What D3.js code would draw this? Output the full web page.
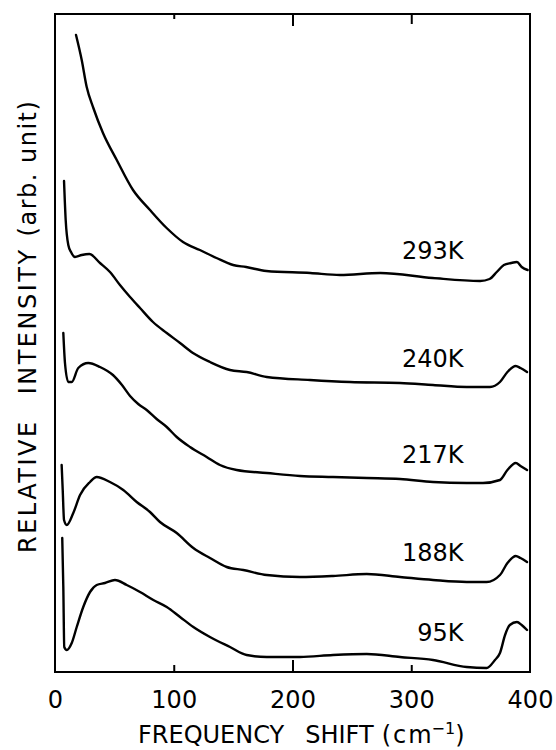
<!DOCTYPE html>
<html><head><meta charset="utf-8">
<script src="https://cdn.jsdelivr.net/npm/d3@7"></script>
<style>
html,body{margin:0;padding:0;background:#fff;}
svg{display:block;}
text{font-family:"DejaVu Sans",sans-serif;fill:#000;}
</style></head>
<body>
<script>
// ---- data (intensity in arbitrary units, offset curves) ----
const xTicks = [0, 100, 200, 300, 400];
const seriesNames = ["293K", "240K", "217K", "188K", "95K"];

const freq293 = [17.7,22.5,26.7,32.3,40.4,52,65.7,80,94,107.8,122,136,150,161,178,215,240,274,318,358,366,372,378,384,389,393,398];
const int293  = [637,612,585,564,539,512,482,462,444,430,422,414,407,405,401,399,397,399,394,391,393,400,407,409,410,405,402];

const freq240 = [7.6,9.0,11.2,13.5,16.8,22.5,28.9,37.9,46.3,54.7,63.2,71.6,82.5,94.1,105.3,116.2,130.5,147.4,161.4,178.3,214.7,248.4,290.5,318.3,346.7,366.3,374.7,381,388,392,397.5];
const int240  = [491,452,427,420,415,417,418,409,400,387,375,364,350,339,329,319,310,302,300,295,292,290,289,287,285,285,290,300,306,304,300];

const freq217 = [7.0,8.4,11.2,14.1,19.6,28.0,37.9,48.8,56.4,63.2,70.1,77.2,85.6,94.1,102.5,113.7,127.7,138.9,153,178.3,206.3,234.1,262.5,290.5,318.3,346.7,360.4,374.7,381,388,392,397.5];
const int217  = [339,309,290,290,304,309,305,297,287,276,268,262,253,245,235,225,215,207,202,199,196,195,194,193,190,189,189,192,202,209,206,202];

const freq188 = [5.6,6.5,7.6,9.9,15.4,21.1,29.5,35.1,46.3,57.5,68.8,80,88.4,102.5,116.5,130.5,144.6,158.6,178.3,206.3,234.1,262.5,290.5,318.3,346.7,363.5,374.7,381,388,392,397.5];
const int188  = [207,182,152,147,159,177,190,195,190,182,170,160,150,139,124,114,105,102,97,95,96,98,95,92,90,90,97,109,116,114,110];

const freq95 = [6.1,7.0,7.8,9.9,14.1,18.3,23.8,29.5,35.1,42.1,50.5,60.4,71.6,82.8,94.1,105.3,116.5,130.5,147.4,161.4,178.3,206.3,234.1,262.5,290.5,318.3,346.7,363.5,370.5,374.7,379,383,389,393,397.5];
const int95  = [134,85,25,22,29,45,65,80,87,89,92,87,80,72,65,55,45,35,25,17,15,15,17,18,15,12,5,4,12,19,37,47,50,47,42];

const freqs = [freq293, freq240, freq217, freq188, freq95];
const ints  = [int293, int240, int217, int188, int95];

// ---- layout ----
const W = 556, H = 750;
const L = 55, R = 530, T = 14, B = 672;

const svg = d3.select("body").append("svg").attr("width", W).attr("height", H);

const x = d3.scaleLinear().domain([0, 400]).range([L, R]);
const y = d3.scaleLinear().domain([0, B - T]).range([B, T]);

// frame
svg.append("rect").attr("x", L).attr("y", T).attr("width", R - L).attr("height", B - T)
  .attr("fill", "none").attr("stroke", "#000").attr("stroke-width", 2);

// tick lengths (inward)
const bottomLen = {100: 7, 200: 12, 300: 7};
const topLen = {100: 5, 200: 12, 300: 10};

const gB = svg.append("g").attr("transform", `translate(0,${B})`)
  .call(d3.axisBottom(x).tickValues(xTicks).tickFormat(d3.format("d")).tickSize(0).tickPadding(19));
gB.select(".domain").remove();
gB.selectAll(".tick text").attr("font-size", 24).attr("font-family", "DejaVu Sans").attr("fill", "#000");
gB.selectAll(".tick").append("line")
  .attr("y1", 0).attr("y2", d => -(bottomLen[d] || 0))
  .attr("stroke", "#000").attr("stroke-width", 2);

const gT = svg.append("g").attr("transform", `translate(0,${T})`)
  .call(d3.axisTop(x).tickValues(xTicks.filter(d => d > 0 && d < 400)).tickFormat("").tickSize(0));
gT.select(".domain").remove();
gT.selectAll(".tick").append("line")
  .attr("y1", 0).attr("y2", d => (topLen[d] || 0))
  .attr("stroke", "#000").attr("stroke-width", 2);

// curves
const line = d3.line().x(d => x(d[0])).y(d => y(d[1])).curve(d3.curveMonotoneX);
freqs.forEach((f, i) => {
  const pts = f.map((v, j) => [v, ints[i][j]]);
  svg.append("path").datum(pts).attr("d", line)
    .attr("fill", "none").attr("stroke", "#000").attr("stroke-width", 2.4)
    .attr("stroke-linejoin", "round").attr("stroke-linecap", "round");
});

// curve labels
function valueAt(f, v, at) {
  const i = d3.bisectLeft(f, at);
  const x0 = f[i - 1], x1 = f[i], y0 = v[i - 1], y1 = v[i];
  return y0 + (y1 - y0) * (at - x0) / (x1 - x0);
}
seriesNames.forEach((name, i) => {
  svg.append("text")
    .attr("x", x(344)).attr("y", y(valueAt(freqs[i], ints[i], 300) + 17))
    .attr("text-anchor", "end").attr("font-size", 24).text(name);
});

// x title
const xt = svg.append("text").attr("x", 138).attr("y", 743).attr("text-anchor", "start").attr("font-size", 24);
xt.append("tspan").text("FREQUENCY");
xt.append("tspan").attr("dx", 21).text("SHIFT");
xt.append("tspan").attr("dx", 8).attr("letter-spacing", 2).text("(cm");
xt.append("tspan").attr("dx", -2).attr("dy", -9).attr("font-size", 16).text("−1");
xt.append("tspan").attr("dy", 9).text(")");

// y title
const yt = svg.append("text").attr("transform", `translate(36,553) rotate(-90)`)
  .attr("text-anchor", "start").attr("font-size", 24).attr("letter-spacing", 2.5);
yt.append("tspan").text("RELATIVE");
yt.append("tspan").attr("dx", 25).text("INTENSITY");
yt.append("tspan").attr("dx", 11).attr("letter-spacing", 1.5).text("(arb. unit)");
</script>
</body></html>
